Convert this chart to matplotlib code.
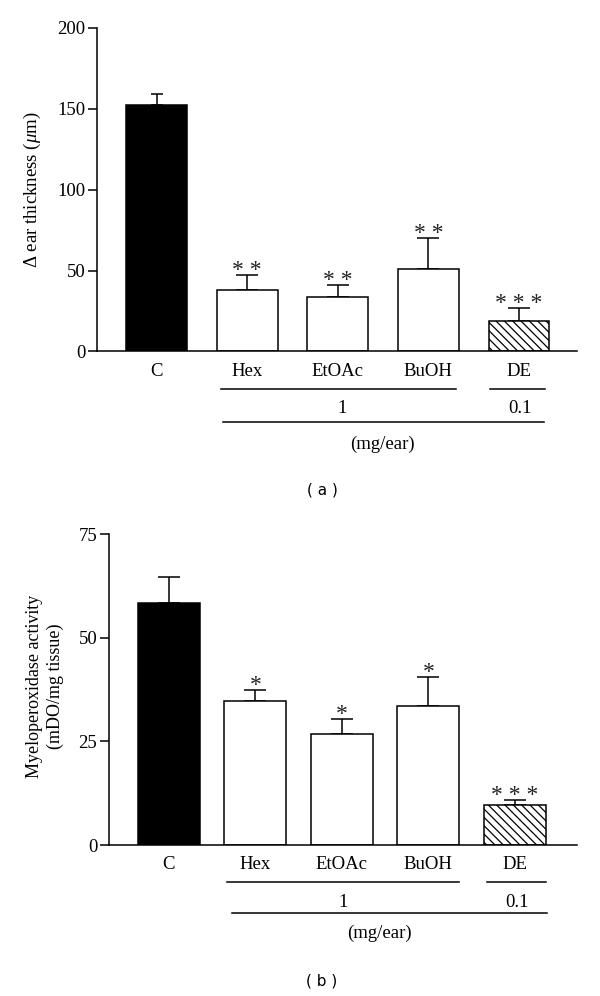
import matplotlib
matplotlib.use('Agg')
import matplotlib.pyplot as plt

# Data
groups = ['C', 'Hex', 'EtOAc', 'BuOH', 'DE']
doses = ['1', '0.1']
dose_unit = '(mg/ear)'

ear_mean = [152.6, 38.0, 33.8, 50.7, 19.0]
ear_sem = [6.4, 9.2, 7.2, 19.2, 8.0]
ear_stars = ['', '* *', '* *', '* *', '* * *']

mpo_mean = [58.5, 34.8, 26.9, 33.6, 9.7]
mpo_sem = [6.2, 2.5, 3.5, 7.0, 1.2]
mpo_stars = ['', '*', '*', '*', '* * *']

SERIF = 'Liberation Serif'
plt.rcParams['font.family'] = SERIF
plt.rcParams['mathtext.fontset'] = 'custom'
plt.rcParams['mathtext.rm'] = SERIF
plt.rcParams['mathtext.it'] = SERIF + ':italic'
plt.rcParams['hatch.linewidth'] = 0.9
plt.rcParams['hatch.color'] = '#333333'

FS = 13.5

fig = plt.figure(figsize=(6.0, 9.96), dpi=100)

facecolors = ['black', 'white', 'white', 'white', 'white']
hatches = [None, None, None, None, '\\\\\\\\']


def draw_panel(ax, means, sems, stars, width, caps, yticks, ax_h_px, lay):
    x = list(range(len(groups)))
    for i in x:
        ax.errorbar(i, means[i], yerr=[[0], [sems[i]]], fmt='none', ecolor='black',
                    elinewidth=1.1, capsize=caps[i], capthick=1.1, zorder=1)
    ax.bar(x, means, width=width, color=facecolors, edgecolor='black',
           linewidth=1.1, hatch=hatches, zorder=2)
    for i in x:
        if stars[i]:
            ax.annotate(stars[i], xy=(i, means[i] + sems[i]), xytext=(0, -0.5),
                        textcoords='offset points', ha='center', va='baseline',
                        fontsize=17, color='#222222')

    ax.spines['top'].set_visible(False)
    ax.spines['right'].set_visible(False)
    for s in ('left', 'bottom'):
        ax.spines[s].set_linewidth(1.1)
    ax.set_yticks(yticks)
    ax.set_ylim(yticks[0], yticks[-1])
    ax.tick_params(axis='y', length=6.5, width=1.1, labelsize=FS, pad=2)
    ax.set_xticks([])

    trans = ax.get_xaxis_transform()

    def yf(px):
        return -px / ax_h_px

    for i, g in enumerate(groups):
        ax.text(i, yf(lay['lab']), g, transform=trans, ha='center', va='center', fontsize=FS)
    for (x0, x1) in lay['line1']:
        ax.plot([x0, x1], [yf(lay['l1']), yf(lay['l1'])], color='black', lw=1.1,
                transform=trans, clip_on=False)
    x0, x1 = lay['line2']
    ax.plot([x0, x1], [yf(lay['l2']), yf(lay['l2'])], color='black', lw=1.1,
            transform=trans, clip_on=False)
    for xd, d in zip(lay['dose_x'], doses):
        ax.text(xd, yf(lay['dose']), d, transform=trans, ha='center', va='center', fontsize=FS)
    ax.text(lay['unit_x'], yf(lay['unit']), dose_unit, transform=trans,
            ha='center', va='center', fontsize=FS)


# Panel (a)
ax1 = fig.add_axes([97 / 600, (996 - 351.5) / 996, 480 / 600, 323.5 / 996])
ax1.set_xlim(-0.657, 4.64)
draw_panel(ax1, ear_mean, ear_sem, ear_stars, 0.673, [4.5, 8, 8, 8, 8],
           [0, 50, 100, 150, 200], 323.5,
           dict(lab=20, l1=38, dose=57, l2=71, unit=93,
                line1=[(0.71, 3.31), (3.68, 4.29)], line2=(0.73, 4.28),
                dose_x=[2.05, 4.01], unit_x=2.49))
fig.text(32 / 600, 1 - 190 / 996, r'$\Delta$ ear thickness ($\mu$m)', rotation=90,
         ha='center', va='center', fontsize=FS)
fig.text(322 / 600, 1 - 490 / 996, '( a )', family='DejaVu Sans', ha='center',
         va='center', fontsize=11)

# Panel (b)
ax2 = fig.add_axes([109 / 600, (996 - 845) / 996, 468 / 600, 310.7 / 996])
ax2.set_xlim(-0.694, 4.72)
draw_panel(ax2, mpo_mean, mpo_sem, mpo_stars, 0.717, [8, 8, 8, 8, 8],
           [0, 25, 50, 75], 310.7,
           dict(lab=19, l1=37, dose=57, l2=68, unit=88,
                line1=[(0.67, 3.36), (3.68, 4.36)], line2=(0.73, 4.37),
                dose_x=[2.01, 4.03], unit_x=2.43))
fig.text(45 / 600, 1 - 686 / 996, 'Myeloperoxidase activity\n(mDO/mg tissue)', rotation=90,
         ha='center', va='center', fontsize=13, linespacing=1.35)
fig.text(322 / 600, 1 - 981 / 996, '( b )', family='DejaVu Sans', ha='center',
         va='center', fontsize=11)

fig.savefig('out.png', dpi=100)
